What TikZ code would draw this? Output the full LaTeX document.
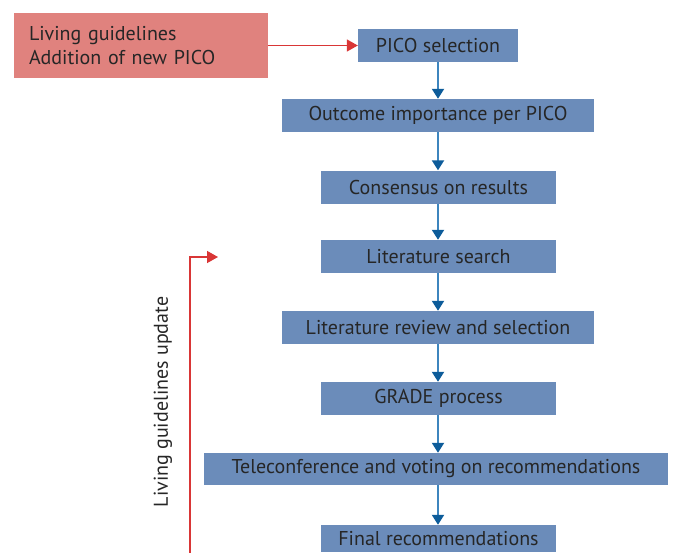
\documentclass[tikz,border=0pt]{standalone}
\usepackage{fontspec}
\setmainfont{PT Sans}
\usetikzlibrary{arrows.meta}
\definecolor{boxblue}{HTML}{6B8CBA}
\definecolor{boxred}{HTML}{E0827E}
\definecolor{linered}{HTML}{D93636}
\definecolor{lineblue}{HTML}{3D85BE}
\definecolor{tipblue}{HTML}{0D5C9A}
\definecolor{txt}{HTML}{262626}
\begin{document}
\begin{tikzpicture}[x=1pt,y=-1pt,
  stepbox/.style={draw=none,fill=boxblue,text=txt,inner sep=0pt,minimum height=33pt,
    font=\fontsize{20}{22}\selectfont},
  flow/.style={draw=lineblue,line width=2pt,-{Triangle[width=12pt,length=10pt,color=tipblue]}},
  redflow/.style={draw=linered,line width=1.5pt,-{Triangle[width=12pt,length=11pt,color=linered]}}]
\useasboundingbox (0,0) rectangle (675,552);
\node[fill=boxred,text=txt,inner xsep=15pt,inner ysep=0pt,text width=224pt,minimum height=65pt,align=left,
  font=\fontsize{20}{24}\selectfont] (living) at (141,45.5) {Living guidelines\\Addition of new PICO};
\node[stepbox,minimum width=160pt] (pico) at (438,45.5) {PICO selection};
\node[stepbox,minimum width=312pt] (outcome) at (438,115.5) {Outcome importance per PICO};
\node[stepbox,minimum width=235pt] (consensus) at (438.5,187) {Consensus on results};
\node[stepbox,minimum width=235pt] (search) at (438.5,256.5) {Literature search};
\node[stepbox,minimum width=312pt] (review) at (438,327.5) {Literature review and selection};
\node[stepbox,minimum width=235pt] (grade) at (438.5,398.5) {GRADE process};
\node[stepbox,minimum width=464pt,minimum height=32pt] (tele) at (436,469) {Teleconference and voting on recommendations};
\node[stepbox,minimum width=235pt,minimum height=27pt] (final) at (438.5,538.5) {Final recommendations};
\draw[flow] (pico.south) -- (pico.south |- outcome.north);
\draw[flow] (pico.south |- outcome.south) -- (pico.south |- consensus.north);
\draw[flow] (pico.south |- consensus.south) -- (pico.south |- search.north);
\draw[flow] (pico.south |- search.south) -- (pico.south |- review.north);
\draw[flow] (pico.south |- review.south) -- (pico.south |- grade.north);
\draw[flow] (pico.south |- grade.south) -- (pico.south |- tele.north);
\draw[flow] (pico.south |- tele.south) -- (pico.south |- final.north);
\draw[redflow] (living.east) -- (pico.west);
\coordinate (lb) at (190,560);
\coordinate (lt) at (190,257);
\coordinate (le) at (218,257);
\draw[redflow] (lb) -- (lt) -- (le);
\node[rotate=90,text=txt,font=\fontsize{20}{22}\selectfont] (upd) at (163,402) {Living guidelines update};
\end{tikzpicture}
\end{document}
